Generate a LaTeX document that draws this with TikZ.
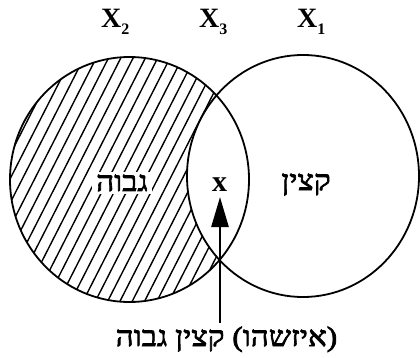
\documentclass[tikz,border=0pt]{standalone}
\usepackage{fontspec}
\setmainfont{Liberation Serif}
\newfontfamily\hebfont[Script=Hebrew,FakeBold=2.5,FakeStretch=1.12]{Liberation Serif}
\TeXXeTstate=1
\usetikzlibrary{arrows.meta}
\newcommand{\sublbl}[1]{\raisebox{-6.5pt}{\fontsize{16}{16}\selectfont\bfseries #1}}
\begin{document}
\begin{tikzpicture}[x=1pt,y=-1pt,
  outline/.style={line width=1.8pt},
  hatchline/.style={line width=1.4pt},
  lbl/.style={inner sep=0pt, font=\fontsize{28}{28}\selectfont\bfseries},
  heb/.style={inner sep=0pt, font=\hebfont\fontsize{28}{28}\selectfont},
  pointer/.style={line width=2.7pt, -{Triangle[length=30pt,width=17pt]}}]
\useasboundingbox (0,0) rectangle (420,358);
% hatching of the left set minus the right set
\begin{scope}
  \clip (129.5,179.5) ellipse [x radius=119.5pt, y radius=122.5pt];
  \foreach \k in {-6,...,26}{
    \draw[hatchline] (\k*12.3-70,312) -- (\k*12.3+70,37);
  }
  \fill[white] (303,176) ellipse [x radius=116pt, y radius=121pt];
\end{scope}
% outlines
\draw[outline] (129.5,179.5) ellipse [x radius=119.5pt, y radius=122.5pt];
\draw[outline] (303,176) ellipse [x radius=116pt, y radius=121pt];
% labels
\node[lbl, anchor=base west] (x2) at (101,28) {X\sublbl{2}};
\node[lbl, anchor=base west] (x3) at (199,28) {X\sublbl{3}};
\node[lbl, anchor=base west] (x1) at (297,28) {X\sublbl{1}};
\node[lbl, font=\fontsize{30}{30}\selectfont\bfseries, anchor=base] (xel) at (219.5,192) {x};
\node[heb, anchor=base, fill=white, inner xsep=4pt, inner ysep=3pt] (high) at (122,191) {\beginR גבוה\endR};
\node[heb, anchor=base] (officer) at (306,190) {\beginR קצין\endR};
\node[heb, anchor=base] (caption) at (226.5,346) {\beginR (איזשהו) קצין גבוה\endR};
% arrow
\coordinate (tail) at (220,323);
\coordinate (tip) at (220,197);
\draw[pointer] (tail) -- (tip);
\end{tikzpicture}
\end{document}
